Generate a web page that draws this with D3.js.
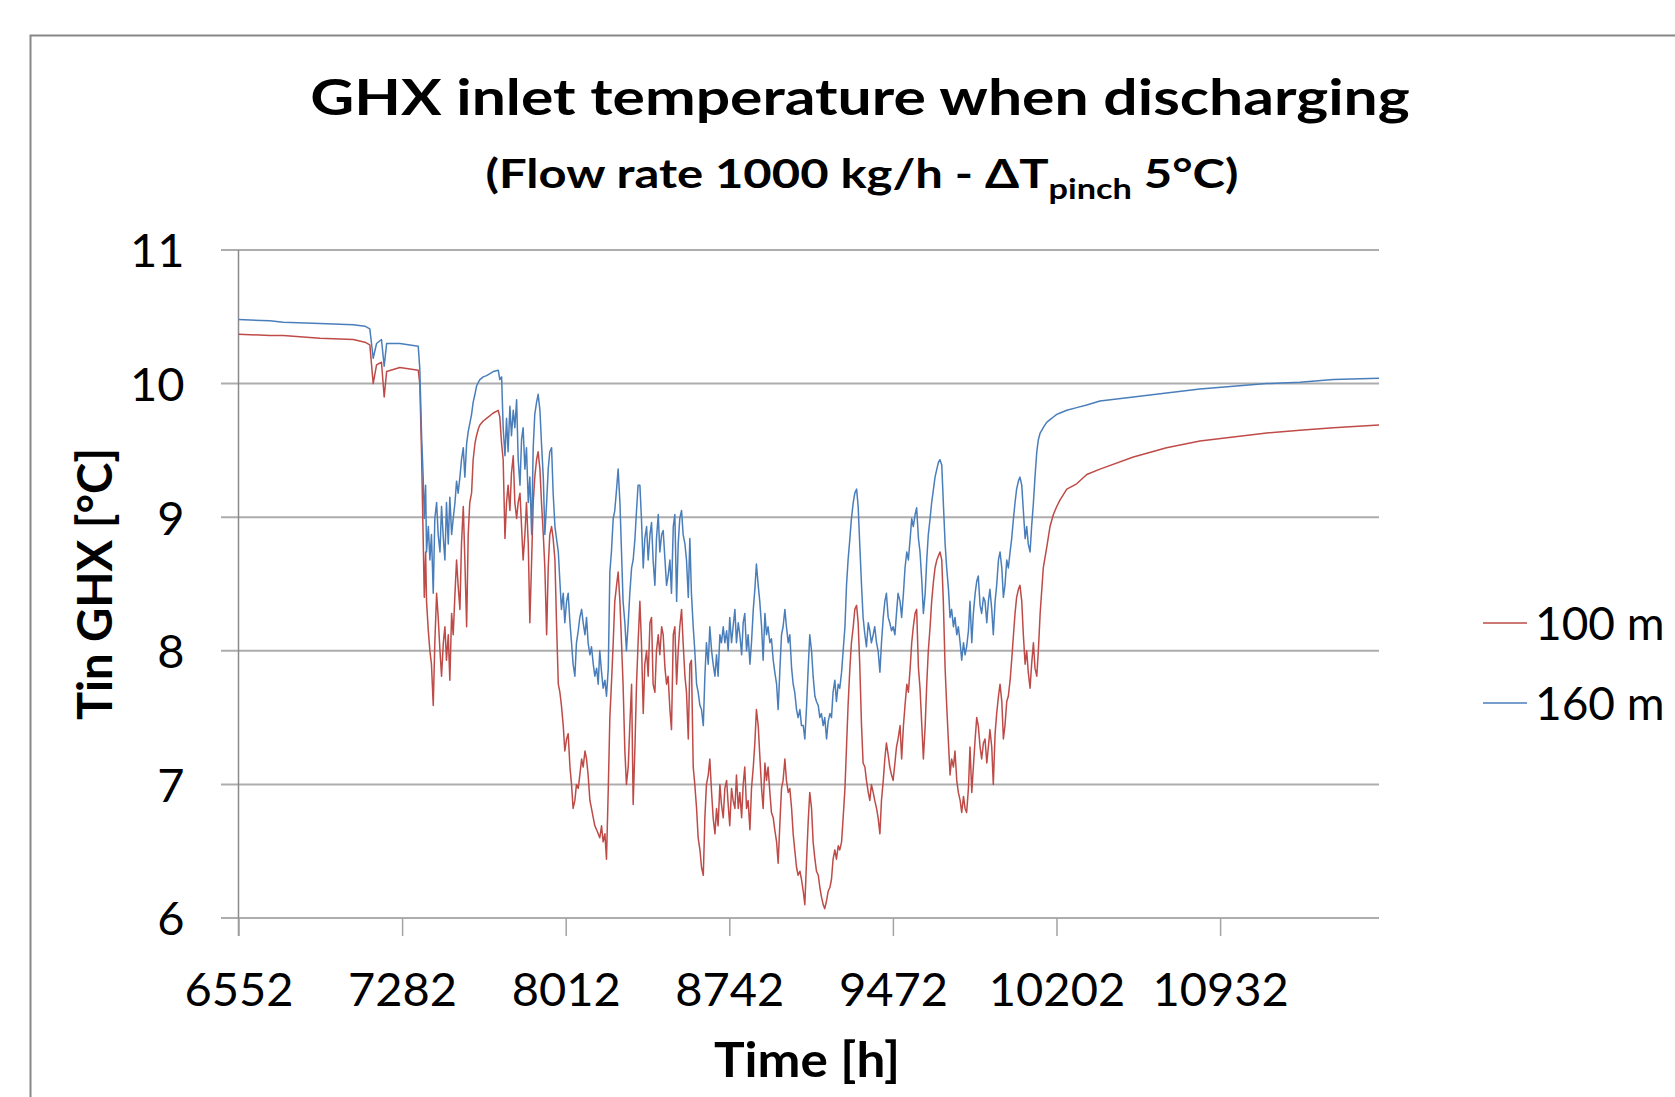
<!DOCTYPE html>
<html>
<head>
<meta charset="utf-8">
<script src="https://cdn.jsdelivr.net/npm/d3@7"></script>
<style>
body { margin: 0; background: #fff; }
text { font-family: Lato, "Open Sans", sans-serif; fill: #000; }
</style>
</head>
<body>
<div id="chart"></div>
<script>
// time axis (h) and inlet temperatures (°C)
var hours = [
  6552,6692,6752,6915,7064,7116,7138,7153,7168,7190,7202,
  7213,7272,7354,7361,7369,7376,7381,7387,7391,7399,
  7406,7413,7421,7428,7436,7443,7451,7458,7466,7473,
  7480,7488,7495,7503,7510,7518,7525,7532,7540,7547,
  7555,7562,7570,7577,7584,7592,7599,7607,7614,7622,
  7629,7644,7659,7689,7711,7718,7726,7733,7741,7748,
  7755,7763,7770,7778,7785,7793,7800,7808,7815,7822,
  7830,7837,7845,7852,7860,7867,7874,7882,7889,7897,
  7904,7912,7919,7927,7934,7941,7949,7956,7964,7971,
  7979,7986,7993,8001,8008,8016,8023,8031,8038,8045,
  8053,8060,8068,8075,8083,8090,8098,8105,8112,8120,
  8127,8135,8142,8150,8157,8164,8172,8179,8187,8194,
  8202,8209,8216,8224,8231,8239,8246,8254,8261,8268,
  8276,8283,8291,8298,8306,8313,8321,8328,8335,
  8343,8350,8358,8365,8373,8380,8388,8395,8402,8410,
  8417,8425,8432,8440,8447,8455,8462,8469,8477,8484,
  8492,8499,8507,8514,8521,8529,8536,8544,8551,8559,
  8566,8573,8581,8588,8596,8603,8611,8618,8626,8633,
  8640,8648,8655,8663,8670,8678,8685,8692,8700,8707,
  8715,8722,8730,8737,8744,8752,8759,8767,8774,8782,
  8789,8797,8804,8811,8819,8826,8834,8841,8849,8856,
  8863,8871,8878,8886,8893,8901,8908,8915,8923,8930,
  8938,8945,8953,8960,8968,8975,8982,8990,8997,9005,
  9012,9020,9027,9034,9042,9049,9057,9064,9072,9079,
  9087,9094,9101,9109,9116,9124,9131,9139,9146,9153,
  9161,9168,9176,9183,9191,9198,9205,9213,9220,9228,
  9235,9243,9250,9258,9265,9272,9280,9287,9295,9302,
  9310,9317,9324,9332,9339,9347,9354,9362,9369,9376,
  9384,9391,9399,9406,9414,9421,9429,9436,9443,9451,
  9458,9466,9473,9481,9488,9495,
  9504,9511,9519,9526,9534,9541,9549,9556,9563,9571,
  9578,9586,9593,9601,9608,9616,9623,9630,9638,9645,
  9653,9660,9668,9675,9682,9690,9697,9705,9712,9720,
  9727,9734,9742,9749,9757,9764,9772,9779,9787,9794,
  9801,9809,9816,9824,9831,9839,9846,9853,9861,9868,
  9876,9883,9891,9898,9905,9913,9920,9928,9935,9943,
  9950,9958,9965,9972,9980,9987,9995,10002,10010,10017,
  10024,10032,10039,10047,10054,10062,10069,10076,10084,10091,
  10099,10106,10114,10121,10129,
  10143,10158,10173,10188,10203,10218,10248,10292,10337,10396,
  10545,10693,10842,10991,11140,11288,11437,11641
];

// 100 m borehole (red)
var tin100 = [
  10.37,10.36,10.36,10.34,10.33,10.31,10.29,10.00,10.14,10.16,9.90,
  10.09,10.12,10.10,10.00,9.46,8.84,8.40,8.74,8.37,8.15,
  8.00,7.90,7.59,8.06,8.43,8.25,8.00,7.81,8.06,8.18,
  7.93,8.12,7.78,8.28,8.12,8.43,8.68,8.49,8.31,8.80,
  9.08,8.68,8.18,8.87,9.11,9.18,9.43,9.55,9.61,9.66,
  9.69,9.72,9.74,9.78,9.80,9.75,9.55,9.43,8.84,9.11,
  9.24,9.05,9.33,9.46,9.11,8.99,9.11,9.18,8.93,8.68,
  8.87,9.11,8.80,8.21,8.68,9.11,9.30,9.43,9.49,9.36,
  9.11,8.87,8.62,8.12,8.62,8.87,8.93,8.84,8.68,8.21,
  7.75,7.69,7.59,7.44,7.25,7.34,7.38,7.13,7.00,6.82,
  6.88,7.00,6.97,7.07,7.19,7.13,7.25,7.19,7.07,6.88,
  6.82,6.75,6.69,6.66,6.63,6.60,6.69,6.57,6.63,6.44,
  6.97,7.50,7.75,8.06,8.37,8.49,8.59,8.37,8.06,7.75,
  7.25,7.00,7.13,7.44,7.75,6.85,7.28,7.75,8.06,
  8.37,8.06,7.53,7.90,8.00,7.81,8.21,8.25,7.75,7.69,
  8.00,8.12,7.97,8.18,8.12,7.87,7.75,7.81,7.56,7.41,
  8.12,8.18,7.75,8.00,8.18,8.31,8.06,7.81,7.69,7.34,
  7.90,7.93,7.13,7.00,6.82,6.60,6.51,6.38,6.32,6.75,
  7.00,7.07,7.19,6.94,6.75,6.63,6.82,6.69,7.00,6.85,
  6.75,6.97,7.03,6.85,6.69,6.97,6.88,6.82,7.07,6.82,
  6.94,6.75,7.00,7.13,6.82,6.88,6.66,6.97,7.13,7.31,
  7.56,7.44,7.22,6.97,6.82,7.16,7.03,7.13,6.94,6.79,
  6.75,6.66,6.57,6.41,6.72,6.97,7.03,7.19,7.03,6.94,
  6.97,6.82,6.63,6.51,6.38,6.32,6.35,6.29,6.20,6.10,
  6.44,6.72,6.94,6.82,6.57,6.44,6.35,6.32,6.23,6.16,
  6.10,6.07,6.13,6.20,6.23,6.29,6.44,6.51,6.44,6.54,
  6.51,6.57,6.75,6.97,7.28,7.59,7.87,8.06,8.18,8.31,
  8.34,8.21,7.90,7.44,7.16,7.13,7.03,6.94,6.88,7.00,
  6.94,6.88,6.82,6.75,6.63,6.88,7.03,7.19,7.31,7.22,
  7.13,7.07,7.03,7.16,7.28,7.34,
  7.44,7.19,7.44,7.59,7.75,7.69,7.87,8.06,8.18,8.28,
  8.31,7.87,7.72,7.44,7.19,7.44,7.75,8.00,8.18,8.37,
  8.52,8.62,8.68,8.71,8.74,8.68,8.37,7.87,7.59,7.31,
  7.07,7.19,7.13,7.25,7.03,6.94,6.88,6.79,6.91,6.82,
  6.79,6.97,7.28,6.94,7.13,7.34,7.50,7.44,7.28,7.19,
  7.31,7.34,7.16,7.28,7.41,7.28,7.00,7.38,7.53,7.66,
  7.75,7.62,7.34,7.44,7.62,7.66,7.78,7.93,8.12,8.28,
  8.40,8.46,8.49,8.37,8.12,7.90,8.00,7.84,7.72,7.90,
  8.06,7.87,7.81,8.00,8.28,
  8.62,8.77,8.93,9.02,9.08,9.13,9.21,9.25,9.32,9.36,
  9.45,9.52,9.57,9.60,9.63,9.65,9.67,9.69
];

// 160 m borehole (blue)
var tin160 = [
  10.48,10.47,10.46,10.45,10.44,10.43,10.41,10.19,10.30,10.33,10.13,
  10.30,10.30,10.28,10.11,9.61,9.30,8.99,9.24,8.74,8.93,
  8.68,8.87,8.43,8.99,9.11,8.87,8.74,9.08,8.84,8.68,
  9.11,8.80,9.15,8.87,8.99,9.11,9.27,9.18,9.30,9.43,
  9.52,9.30,9.55,9.64,9.70,9.77,9.86,9.92,9.98,10.01,
  10.03,10.05,10.06,10.09,10.10,10.03,10.05,9.67,9.46,9.74,
  9.49,9.83,9.61,9.80,9.67,9.88,9.43,9.24,9.58,9.67,
  9.36,9.52,9.11,9.30,8.87,9.52,9.77,9.86,9.92,9.80,
  9.55,9.30,8.87,9.11,9.36,9.49,9.52,9.18,8.93,8.84,
  8.74,8.52,8.31,8.43,8.21,8.37,8.43,8.21,8.06,7.90,
  7.81,8.06,8.15,8.25,8.31,8.21,8.12,8.25,8.06,7.97,
  8.03,7.90,7.81,7.87,7.75,8.00,7.84,7.72,7.78,7.66,
  7.87,8.59,8.74,8.99,9.05,9.21,9.36,9.11,8.74,8.37,
  8.21,8.00,8.21,8.43,8.62,8.68,8.84,9.05,9.24,
  9.24,8.99,8.62,8.84,8.93,8.68,8.87,8.96,8.68,8.49,
  8.84,9.02,8.74,8.87,8.90,8.68,8.49,8.56,8.68,8.43,
  8.93,9.02,8.37,8.80,8.99,9.05,8.87,8.80,8.68,8.40,
  8.84,8.43,8.18,8.00,7.75,7.69,7.59,7.56,7.44,7.81,
  8.06,7.90,8.18,8.00,7.90,7.81,7.97,7.81,8.12,8.06,
  8.18,8.06,8.15,8.00,8.25,8.06,8.18,8.31,8.06,8.21,
  8.12,7.97,8.21,8.28,8.00,8.12,7.90,8.06,8.31,8.46,
  8.65,8.49,8.37,8.18,7.93,8.28,8.12,8.18,8.06,8.09,
  7.93,7.84,7.75,7.56,7.87,8.12,8.18,8.31,8.18,8.06,
  8.12,7.87,7.75,7.69,7.56,7.50,7.56,7.44,7.44,7.34,
  7.59,7.87,8.12,8.00,7.81,7.66,7.62,7.59,7.50,7.53,
  7.44,7.50,7.34,7.47,7.53,7.50,7.69,7.78,7.62,7.75,
  7.72,7.84,8.00,8.18,8.49,8.68,8.84,8.99,9.11,9.18,
  9.21,9.08,8.80,8.49,8.25,8.12,8.03,8.21,8.15,8.06,
  8.12,8.18,8.06,8.00,7.84,8.06,8.25,8.37,8.43,8.25,
  8.21,8.15,8.18,8.12,8.28,8.43,
  8.37,8.25,8.43,8.62,8.74,8.68,8.84,8.99,8.93,9.02,
  9.07,8.84,8.74,8.52,8.28,8.43,8.68,8.87,8.99,9.11,
  9.21,9.30,9.36,9.41,9.43,9.39,9.11,8.80,8.62,8.46,
  8.25,8.31,8.18,8.25,8.12,8.18,8.06,7.93,8.06,7.97,
  8.03,8.15,8.37,8.06,8.28,8.43,8.52,8.56,8.34,8.28,
  8.40,8.37,8.21,8.37,8.46,8.31,8.12,8.37,8.49,8.68,
  8.74,8.62,8.40,8.49,8.68,8.62,8.74,8.84,8.99,9.11,
  9.21,9.27,9.30,9.24,9.05,8.84,8.93,8.80,8.74,8.93,
  9.11,9.30,9.49,9.58,9.63,
  9.67,9.71,9.73,9.75,9.77,9.78,9.80,9.82,9.84,9.87,
  9.90,9.93,9.96,9.98,10.00,10.01,10.03,10.04
];

var seriesNames = ["100 m", "160 m"];
var seriesColors = ["#be4b48", "#4a7ebb"];
var xTicks = [6552, 7282, 8012, 8742, 9472, 10202, 10932];
var yTicks = [6, 7, 8, 9, 10, 11];

var svgWidth = 1675;
var svgHeight = 1097;

// plot area
var margin = { top: 250, right: 296, bottom: 179, left: 238.5 };
var width = svgWidth - margin.left - margin.right;
var height = svgHeight - margin.top - margin.bottom;

var svg = d3.select("#chart")
  .append("svg")
  .attr("width", svgWidth)
  .attr("height", svgHeight);

svg.append("rect")
  .attr("width", svgWidth)
  .attr("height", svgHeight)
  .attr("fill", "#fff");

// chart border (runs off the right and bottom edges)
svg.append("rect")
  .attr("x", 30.5)
  .attr("y", 35.5)
  .attr("width", 1700)
  .attr("height", 1100)
  .attr("fill", "none")
  .attr("stroke", "#878787")
  .attr("stroke-width", 2);

// stretch text horizontally to the width seen in the picture
function fitWidth(sel, target) {
  var w = sel.node().getBBox().width;
  var x = +sel.attr("x") || 0;
  var y = +sel.attr("y") || 0;
  sel.attr("transform", `translate(${x},${y}) scale(${target / w},1) translate(${-x},${-y})`);
}

// titles
var title = svg.append("text")
  .attr("x", 860)
  .attr("y", 115)
  .attr("text-anchor", "middle")
  .attr("font-size", 50)
  .attr("font-weight", "bold")
  .text("GHX inlet temperature when discharging");
fitWidth(title, 1100);

var subtitle = svg.append("text")
  .attr("x", 862)
  .attr("y", 188)
  .attr("text-anchor", "middle")
  .attr("font-size", 40)
  .attr("font-weight", "bold");
subtitle.append("tspan").text("(Flow rate 1000 kg/h - \u0394T");
subtitle.append("tspan").attr("font-size", 28).attr("dy", 11).text("pinch");
subtitle.append("tspan").attr("dy", -11).text(" 5\u00b0C)");
fitWidth(subtitle, 753);

var chartGroup = svg.append("g")
  .attr("transform", `translate(${margin.left}, ${margin.top})`);

var xScale = d3.scaleLinear()
  .domain([6552, 11641])
  .range([0, width]);

var yScale = d3.scaleLinear()
  .domain([6, 11])
  .range([height, 0]);

// horizontal gridlines, running out left as tick marks
chartGroup.append("g")
  .selectAll("line")
  .data(yTicks)
  .enter()
  .append("line")
  .attr("x1", -17.5)
  .attr("x2", width)
  .attr("y1", d => yScale(d))
  .attr("y2", d => yScale(d))
  .attr("stroke", "#adadad")
  .attr("stroke-width", 2);

// y axis
var leftAxis = d3.axisLeft(yScale)
  .tickValues(yTicks)
  .tickSize(0)
  .tickPadding(54)
  .tickFormat(d3.format("d"));
var yAxis = chartGroup.append("g").call(leftAxis);
yAxis.select(".domain").remove();
yAxis.selectAll("text")
  .attr("font-size", 47)
  .attr("font-family", "Lato, 'Open Sans', sans-serif")
  .attr("dy", "0.36em");

chartGroup.append("line")
  .attr("x1", 0).attr("x2", 0)
  .attr("y1", 0).attr("y2", height + 18)
  .attr("stroke", "#8a8a8a")
  .attr("stroke-width", 1.5);

// x axis
var bottomAxis = d3.axisBottom(xScale)
  .tickValues(xTicks)
  .tickSize(18)
  .tickSizeOuter(0)
  .tickFormat(d3.format("d"));
var xAxis = chartGroup.append("g")
  .attr("transform", `translate(0, ${height})`)
  .call(bottomAxis);
xAxis.select(".domain").remove();
xAxis.selectAll(".tick line")
  .attr("stroke", "#a3a3a3")
  .attr("stroke-width", 1.5);
xAxis.selectAll("text")
  .attr("font-size", 47)
  .attr("font-family", "Lato, 'Open Sans', sans-serif")
  .attr("y", 88)
  .attr("dy", 0);

// lines
var series = [tin100, tin160];
series.forEach(function(values, s) {
  var line = d3.line()
    .x((d, i) => xScale(hours[i]))
    .y(d => yScale(d));
  chartGroup.append("path")
    .datum(values)
    .attr("d", line)
    .attr("fill", "none")
    .attr("stroke", seriesColors[s])
    .attr("stroke-width", 1.5)
    .attr("stroke-linejoin", "round");
});

// axis titles
var xLabel = svg.append("text")
  .attr("x", 807)
  .attr("y", 1077)
  .attr("text-anchor", "middle")
  .attr("font-size", 48)
  .attr("font-weight", "bold")
  .text("Time [h]");
fitWidth(xLabel, 186);

var yLabelGroup = svg.append("g")
  .attr("transform", "translate(112, 584) rotate(-90)");
var yLabel = yLabelGroup.append("text")
  .attr("x", 0)
  .attr("y", 0)
  .attr("text-anchor", "middle")
  .attr("font-size", 48)
  .attr("font-weight", "bold")
  .text("Tin GHX [\u00b0C]");
fitWidth(yLabel, 272);

// legend
var legend = svg.append("g")
  .selectAll("g")
  .data(seriesNames)
  .enter()
  .append("g")
  .attr("transform", (d, i) => `translate(1483, ${623 + i * 80})`);
legend.append("line")
  .attr("x1", 0)
  .attr("x2", 44)
  .attr("stroke", (d, i) => seriesColors[i])
  .attr("stroke-width", 1.5);
legend.append("text")
  .attr("x", 52)
  .attr("y", 17)
  .attr("font-size", 46)
  .text(d => d);
</script>
</body>
</html>
